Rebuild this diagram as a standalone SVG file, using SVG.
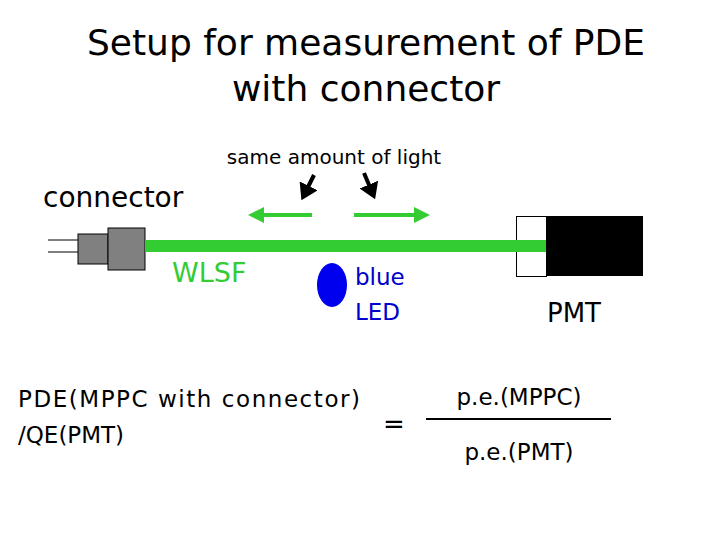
<svg xmlns="http://www.w3.org/2000/svg" width="720" height="540" viewBox="0 0 720 540">
<defs>
<style>
text{font-family:"DejaVu Sans","Liberation Sans",sans-serif;}
.g{stroke:#33cc33;fill:none}
</style>
<marker id="ga" markerWidth="4" markerHeight="4" refX="2" refY="2" orient="auto" markerUnits="strokeWidth"><path d="M0,0L4,2L0,4z" fill="#33cc33"/></marker>
<marker id="ka" markerWidth="4" markerHeight="5" refX="2" refY="2.5" orient="auto" markerUnits="strokeWidth"><path d="M0,0L4,2.5L0,5z" fill="#000"/></marker>
</defs>
<rect width="720" height="540" fill="#fff"/>
<text x="366" y="55" font-size="36" text-anchor="middle">Setup for measurement of PDE</text>
<text x="366" y="101" font-size="36" text-anchor="middle">with connector</text>
<text x="334" y="164" font-size="20" text-anchor="middle">same amount of light</text>
<text x="43" y="207" font-size="28">connector</text>
<g id="connectors">
<line x1="314" y1="175" x2="305" y2="193" stroke="#000" stroke-width="4" marker-end="url(#ka)"/>
<line x1="364" y1="173" x2="372" y2="192" stroke="#000" stroke-width="4" marker-end="url(#ka)"/>
<line x1="312" y1="215" x2="256" y2="215" class="g" stroke-width="4" marker-end="url(#ga)"/>
<line x1="354" y1="215" x2="422" y2="215" class="g" stroke-width="4" marker-end="url(#ga)"/>
</g>
<g id="connector">
<line x1="48" y1="240" x2="78" y2="240" stroke="#000"/>
<line x1="48" y1="252" x2="78" y2="252" stroke="#000"/>
<rect x="78" y="234" width="30" height="30" fill="#808080" stroke="#000"/>
<rect x="108" y="228" width="37" height="42" fill="#808080" stroke="#000"/>
</g>
<g id="wlsf">
<rect x="145" y="240" width="401" height="12" fill="#33cc33"/>
<text x="172" y="282" font-size="27" fill="#33cc33">WLSF</text>
</g>
<g id="led">
<ellipse cx="332" cy="285" rx="15" ry="22" fill="#0000ee"/>
<text x="355" y="285" font-size="23" fill="#0000cc">blue</text>
<text x="355" y="320" font-size="23" fill="#0000cc">LED</text>
</g>
<g id="pmt">
<rect x="516.5" y="216.5" width="30" height="60" fill="#fff" stroke="#000"/>
<rect x="516" y="240" width="30" height="12" fill="#33cc33"/>
<rect x="546" y="216" width="97" height="60" fill="#000"/>
<text x="574" y="322" font-size="26" text-anchor="middle">PMT</text>
</g>
<g id="formula">
<text x="18" y="407" font-size="23" textLength="342">PDE(MPPC with connector)</text>
<text x="18" y="443" font-size="23">/QE(PMT)</text>
<text x="394" y="433" font-size="26" text-anchor="middle">=</text>
<text x="519" y="405" font-size="23" text-anchor="middle">p.e.(MPPC)</text>
<line x1="426" y1="419" x2="611" y2="419" stroke="#000" stroke-width="2"/>
<text x="519" y="460" font-size="23" text-anchor="middle">p.e.(PMT)</text>
</g>
</svg>
